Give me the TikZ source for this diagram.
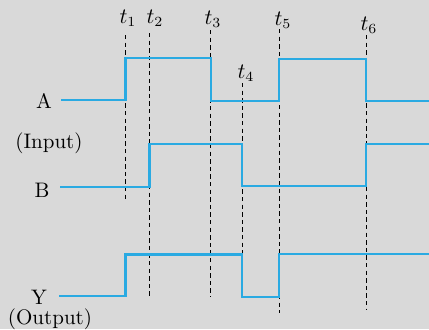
\documentclass[tikz,border=0pt]{standalone}
\usetikzlibrary{positioning}
\definecolor{bgray}{HTML}{D9D9D9}
\definecolor{wblue}{HTML}{2AAAE2}
\tikzset{
  wave/.style={line width=1.1pt, wblue},
  tmark/.style={line width=0.45pt, black, dash pattern=on 2.2pt off 1.6pt},
  lbl/.style={font=\fontsize{10.5}{12}\selectfont, inner sep=0pt}
}

\begin{document}
\begin{tikzpicture}[x=0.5pt,y=-0.5pt]
\fill[bgray] (0,0) rectangle (429,329);
\useasboundingbox (0,0) rectangle (429,329);
% dashed time marks
\foreach \tx/\ttop/\tbot/\tn in {125.5/35/202/1, 149.5/33/296/2, 210.7/30/297/3,
                                 242.3/83/254/4, 279/29/313/5, 366.3/35/310/6}
  \draw[tmark] (\tx,\ttop) -- (\tx,\tbot);
% labels of time marks
\node[lbl] (t1) at (128,18) {$t_1$};
\node[lbl] (t2) at (155,18) {$t_2$};
\node[lbl] (t3) at (213,19) {$t_3$};
\node[lbl] (t4) at (246,73) {$t_4$};
\node[lbl] (t5) at (283,20) {$t_5$};
\node[lbl] (t6) at (369,25) {$t_6$};
% waveforms
\draw[wave] (61,100) -- (125.5,100) -- (125.5,58) -- (210.7,58) -- (210.7,101)
  -- (279,101) -- (279,59) -- (366.3,59) -- (366.3,101) -- (429,101);
\draw[wave] (60,186.7) -- (149.5,186.7) -- (149.5,144) -- (242.3,144) -- (242.3,186)
  -- (366.3,186) -- (366.3,144) -- (429,144);
\draw[wave] (59,296) -- (125.5,296) -- (125.5,254.5) -- (242.3,254.5) -- (242.3,297)
  -- (279,297) -- (279,254) -- (429,254);
% signal names
\node[lbl] (la) at (44,101) {A};
\node[lbl] (lin) at (49,143) {(Input)};
\node[lbl] (lb) at (42,190) {B};
\node[lbl] (ly) at (39,297) {Y};
\node[lbl] (lout) at (50,319.5) {(Output)};
\end{tikzpicture}
\end{document}
